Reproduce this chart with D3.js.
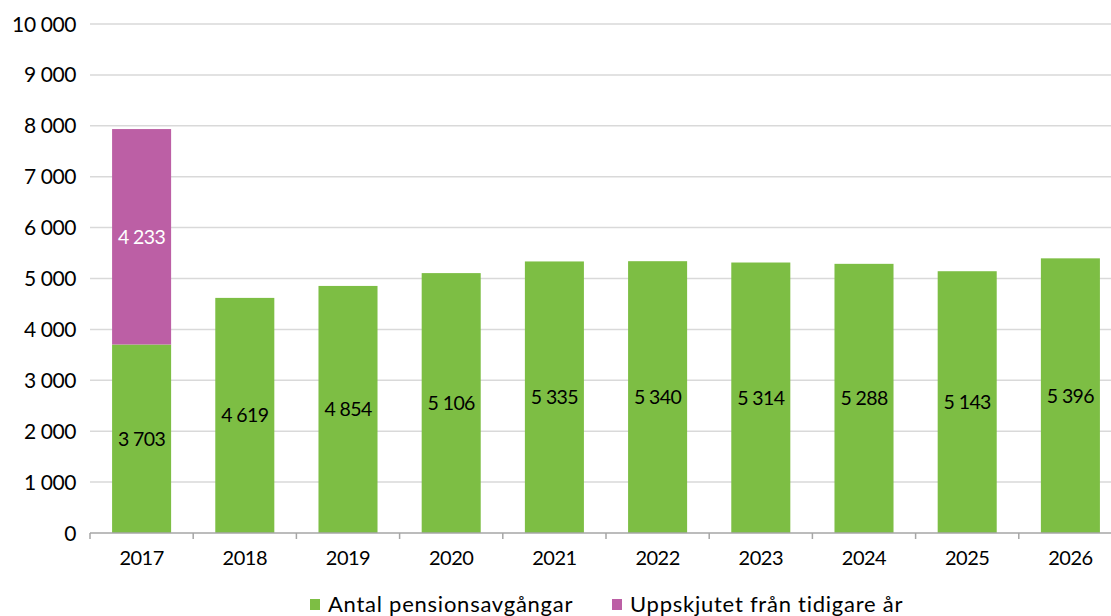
<!DOCTYPE html>
<html>
<head>
<meta charset="utf-8">
<script src="https://cdn.jsdelivr.net/npm/d3@7"></script>
<style>
  body { margin: 0; background: #fff; }
  svg { display: block; font-family: Lato, "Open Sans", sans-serif; }
</style>
</head>
<body>
<svg id="chart" width="1111" height="616"></svg>
<script>
// data
const years = ['2017', '2018', '2019', '2020', '2021', '2022', '2023', '2024', '2025', '2026'];
const antal = [3703, 4619, 4854, 5106, 5335, 5340, 5314, 5288, 5143, 5396];
const uppskjutet = [4233, 0, 0, 0, 0, 0, 0, 0, 0, 0];
const yTicks = [0, 1000, 2000, 3000, 4000, 5000, 6000, 7000, 8000, 9000, 10000];
const seriesNames = ['Antal pensionsavgångar', 'Uppskjutet från tidigare år'];
const colors = ['#7dbe44', '#bc5fa5'];

const svg = d3.select('#chart');
const W = 1111, H = 616;
const mar = { left: 90, top: 24, bottom: 83 };
const plotRight = 90 + 103.2 * 10;

const fmtNum = v => d3.format(',')(v).replace(/,/g, ' ');

const x = d3.scaleBand()
  .domain(years)
  .range([mar.left, plotRight])
  .paddingInner(0.428)
  .paddingOuter(0.214);

const y = d3.scaleLinear()
  .domain([0, 10000])
  .range([H - mar.bottom, mar.top]);

// gridlines
svg.append('g')
  .selectAll('line')
  .data(yTicks.filter(d => d > 0))
  .join('line')
  .attr('x1', mar.left).attr('x2', W)
  .attr('y1', d => y(d)).attr('y2', d => y(d))
  .attr('stroke', '#d9d9d9')
  .attr('stroke-width', 1.5);

// y labels
svg.append('g')
  .selectAll('text')
  .data(yTicks)
  .join('text')
  .attr('x', 76)
  .attr('y', d => y(d))
  .attr('dy', '0.36em')
  .attr('text-anchor', 'end')
  .attr('font-size', 21)
  .attr('letter-spacing', -0.4)
  .attr('fill', '#000')
  .text(d => fmtNum(d));

// stacked bars
const rows = years.map((yr, i) => ({ year: yr, antal: antal[i], uppskjutet: uppskjutet[i] }));
const stack = d3.stack().keys(['antal', 'uppskjutet'])(rows);

const layers = svg.append('g')
  .selectAll('g')
  .data(stack)
  .join('g')
  .attr('fill', (d, i) => colors[i]);

layers.selectAll('rect')
  .data(d => d.filter(s => s[1] > s[0]))
  .join('rect')
  .attr('x', d => x(d.data.year))
  .attr('width', x.bandwidth())
  .attr('y', d => y(d[1]))
  .attr('height', d => y(d[0]) - y(d[1]));

// value labels
layers.selectAll('text')
  .data(d => d.filter(s => s[1] > s[0]))
  .join('text')
  .attr('x', d => x(d.data.year) + x.bandwidth() / 2)
  .attr('y', d => (y(d[0]) + y(d[1])) / 2)
  .attr('dy', '0.36em')
  .attr('text-anchor', 'middle')
  .attr('font-size', 19.5)
  .attr('letter-spacing', -0.6)
  .attr('fill', function() { return d3.select(this.parentNode).datum().key === 'uppskjutet' ? '#fff' : '#000'; })
  .text(d => fmtNum(d[1] - d[0]));

// x axis
const xAxis = svg.append('g')
  .attr('transform', `translate(0,${y(0)})`);
xAxis.append('line')
  .attr('x1', mar.left).attr('x2', W)
  .attr('stroke', '#a6a6a6').attr('stroke-width', 1.5);
xAxis.selectAll('line.tick')
  .data(d3.range(years.length + 1))
  .join('line')
  .attr('class', 'tick')
  .attr('x1', i => mar.left + i * x.step())
  .attr('x2', i => mar.left + i * x.step())
  .attr('y1', 0).attr('y2', 6)
  .attr('stroke', '#a6a6a6').attr('stroke-width', 1.5);
xAxis.selectAll('text')
  .data(years)
  .join('text')
  .attr('x', d => x(d) + x.bandwidth() / 2)
  .attr('y', 25)
  .attr('dy', '0.36em')
  .attr('text-anchor', 'middle')
  .attr('font-size', 20)
  .attr('letter-spacing', -0.5)
  .attr('fill', '#000')
  .text(d => d);

// legend
const legend = svg.append('g').attr('transform', 'translate(0,612)');
const legX = [310, 612];
seriesNames.forEach((name, i) => {
  legend.append('rect')
    .attr('x', legX[i]).attr('y', -13)
    .attr('width', 10).attr('height', 11)
    .attr('fill', colors[i]);
  legend.append('text')
    .attr('x', legX[i] + 18).attr('y', 0)
    .attr('font-size', 22)
    .attr('letter-spacing', 0.75)
    .attr('fill', '#000')
    .text(name);
});
</script>
</body>
</html>
